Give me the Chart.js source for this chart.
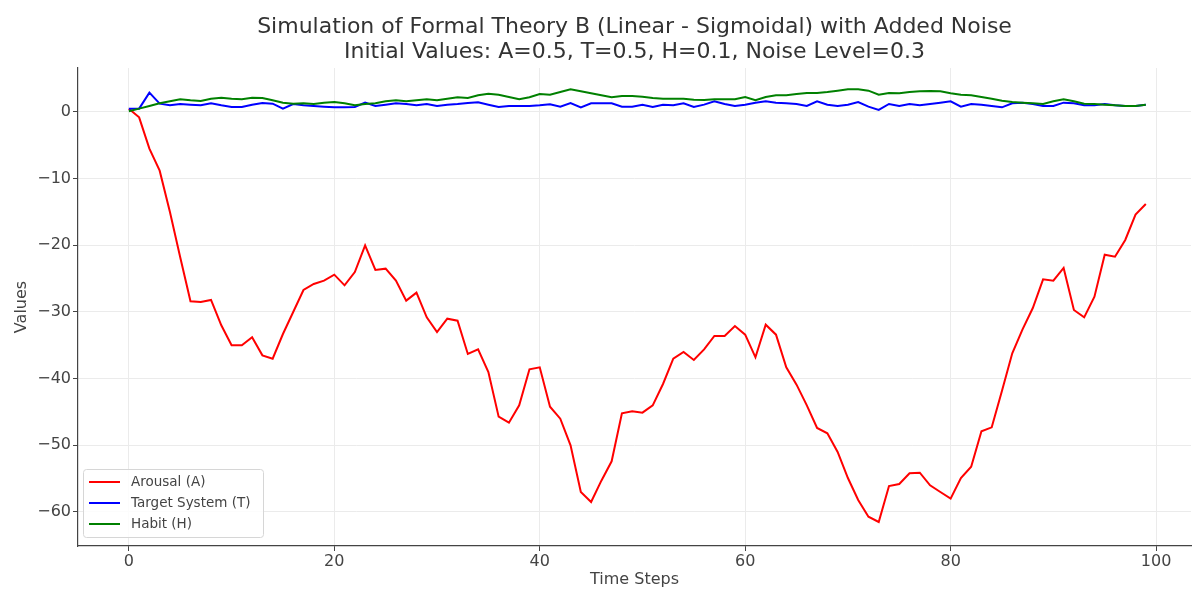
<!DOCTYPE html>
<html lang="en">
<head>
  <meta charset="UTF-8">
  <title>Simulation of Formal Theory B</title>
  <script src="https://cdnjs.cloudflare.com/ajax/libs/Chart.js/4.4.1/chart.umd.min.js"></script>
  <style>
  body {
    margin: 0;
    background: #fff;
  }
  </style>
</head>
<body>
<canvas id="myChart" width="1193" height="591"></canvas>
<script>
    const timeSteps = [
      0, 1, 2, 3, 4, 5, 6, 7, 8, 9, 10, 11, 12, 13, 14, 15, 16, 17, 18, 19,
      20, 21, 22, 23, 24, 25, 26, 27, 28, 29, 30, 31, 32, 33, 34, 35, 36, 37, 38, 39,
      40, 41, 42, 43, 44, 45, 46, 47, 48, 49, 50, 51, 52, 53, 54, 55, 56, 57, 58, 59,
      60, 61, 62, 63, 64, 65, 66, 67, 68, 69, 70, 71, 72, 73, 74, 75, 76, 77, 78, 79,
      80, 81, 82, 83, 84, 85, 86, 87, 88, 89, 90, 91, 92, 93, 94, 95, 96, 97, 98, 99
    ];

    const arousal = [
      0.5, -0.8, -5.5, -8.8, -15, -21.8, -28.4, -28.5, -28.2, -32,
      -35, -35, -33.8, -36.5, -37, -33.3, -30, -26.7, -25.8, -25.3,
      -24.4, -26, -24, -20, -23.7, -23.5, -25.3, -28.3, -27.1, -30.8,
      -33, -31, -31.3, -36.3, -35.6, -39, -45.7, -46.6, -44, -38.6,
      -38.3, -44.2, -46, -50, -57, -58.5, -55.3, -52.4, -45.2, -44.9,
      -45.1, -44, -40.8, -37, -36, -37.2, -35.6, -33.6, -33.6, -32.1,
      -33.4, -36.8, -31.9, -33.4, -38.3, -40.9, -44, -47.4, -48.2, -51,
      -54.9, -58.2, -60.7, -61.5, -56.1, -55.8, -54.2, -54.1, -56, -57,
      -58, -54.9, -53.2, -47.9, -47.3, -41.8, -36.2, -32.6, -29.4, -25.1,
      -25.3, -23.4, -29.7, -30.8, -27.7, -21.4, -21.7, -19.2, -15.4, -13.8
    ];

    const targetSystem = [
      0.5, 0.5, 2.9, 1.25, 1.0, 1.2, 1.1, 1.0, 1.3, 1.0,
      0.75, 0.75, 1.1, 1.35, 1.25, 0.5, 1.2, 1.0, 0.9, 0.8,
      0.7, 0.7, 0.75, 1.4, 0.9, 1.1, 1.3, 1.2, 1.0, 1.2,
      0.9, 1.1, 1.2, 1.35, 1.45, 1.1, 0.75, 0.9, 0.9, 0.9,
      1.0, 1.15, 0.8, 1.35, 0.7, 1.3, 1.3, 1.3, 0.8, 0.8,
      1.1, 0.75, 1.1, 1.0, 1.3, 0.75, 1.1, 1.6, 1.2, 0.9,
      1.1, 1.4, 1.6, 1.4, 1.3, 1.2, 0.9, 1.6, 1.1, 0.9,
      1.1, 1.5, 0.8, 0.3, 1.2, 0.9, 1.2, 1.0, 1.2, 1.4,
      1.6, 0.8, 1.2, 1.1, 0.9, 0.7, 1.3, 1.4, 1.2, 0.9,
      0.9, 1.4, 1.3, 1.0, 1.0, 1.2, 1.0, 0.9, 0.9, 1.1
    ];

    const habit = [
      0.1, 0.5, 0.9, 1.3, 1.6, 1.9, 1.75, 1.65, 2.0, 2.15,
      2.0, 1.9, 2.15, 2.1, 1.75, 1.4, 1.25, 1.3, 1.2, 1.4,
      1.5, 1.3, 1.0, 1.2, 1.3, 1.6, 1.75, 1.6, 1.75, 1.9,
      1.75, 2.0, 2.2, 2.1, 2.5, 2.75, 2.6, 2.25, 1.9, 2.2,
      2.7, 2.6, 3.0, 3.4, 3.1, 2.8, 2.5, 2.2, 2.4, 2.4,
      2.3, 2.1, 2.0, 2.0, 2.0, 1.85, 1.8, 1.9, 1.9, 1.9,
      2.25, 1.75, 2.25, 2.5, 2.5, 2.7, 2.85, 2.85, 3.0, 3.2,
      3.4, 3.4, 3.2, 2.6, 2.85, 2.8, 3.0, 3.1, 3.15, 3.1,
      2.8, 2.6, 2.5, 2.25, 2.0, 1.7, 1.5, 1.4, 1.3, 1.2,
      1.6, 1.9, 1.6, 1.25, 1.2, 1.1, 1.0, 0.9, 0.9, 1.1
    ];

    const xTicks = [0, 20, 40, 60, 80, 100];
    const yTicks = [-60, -50, -40, -30, -20, -10, 0];

    const FONT = "'DejaVu Sans', sans-serif";
    const TEXT = '#444';

    function points(values) {
      return timeSteps.map((t, i) => ({x: t, y: values[i]}));
    }

    // matplotlib style minus sign on negative ticks
    function fmt(v) {
      return v < 0 ? '\u2212' + Math.abs(v) : String(v);
    }

    // legend box in the lower left corner of the plot
    const cornerLegend = {
      id: 'cornerLegend',
      afterDraw: (chart) => {
        const c = chart.ctx;
        const area = chart.chartArea;
        const x = area.left + 5, y = area.bottom - 77, w = 180, h = 68;
        c.save();
        c.fillStyle = 'rgba(255,255,255,0.85)';
        c.strokeStyle = '#d6d6d6';
        c.lineWidth = 1;
        c.beginPath();
        c.roundRect(x + 0.5, y + 0.5, w, h, 3);
        c.fill();
        c.stroke();
        c.font = '13.5px ' + FONT;
        c.textBaseline = 'middle';
        chart.data.datasets.forEach((ds, i) => {
          const ly = y + 13 + i * 21;
          c.strokeStyle = ds.borderColor;
          c.lineWidth = 2;
          c.beginPath();
          c.moveTo(x + 6, ly);
          c.lineTo(x + 37, ly);
          c.stroke();
          c.fillStyle = TEXT;
          c.fillText(ds.label, x + 48, ly);
        });
        c.restore();
      }
    };

    var ctx = document.getElementById("myChart");
    var myChart = new Chart(ctx, {
        type: 'line',
        data: {
          datasets: [{
            label: 'Arousal (A)',
            data: points(arousal),
            borderColor: 'red',
            order: 2
          }, {
            label: 'Target System (T)',
            data: points(targetSystem),
            borderColor: 'blue',
            order: 1
          }, {
            label: 'Habit (H)',
            data: points(habit),
            borderColor: 'green',
            order: 0
          }]
        },
        options: {
          responsive: false,
          animation: false,
          datasets: {
            line: {
              borderWidth: 2,
              pointRadius: 0,
              tension: 0,
              fill: false
            }
          },
          layout: {
            padding: {left: 0, right: 2, top: 0, bottom: 0}
          },
          scales: {
            x: {
              type: 'linear',
              min: -4.95,
              max: 103.4,
              afterBuildTicks: (s) => { s.ticks = xTicks.map(v => ({value: v})); },
              afterFit: (s) => { s.height = 45; },
              grid: {color: '#ebebeb', tickColor: '#444', tickLength: 5},
              border: {color: '#444', width: 1.2},
              ticks: {
                color: TEXT,
                font: {family: FONT, size: 16},
                padding: 1,
                maxRotation: 0,
                callback: (v) => fmt(v)
              },
              title: {
                display: true,
                text: 'Time Steps',
                color: TEXT,
                font: {family: FONT, size: 16},
                padding: {top: 0, bottom: 1.5}
              }
            },
            y: {
              min: -65.1,
              max: 6.6,
              afterBuildTicks: (s) => { s.ticks = yTicks.map(v => ({value: v})); },
              afterFit: (s) => { s.width = 78; },
              grid: {color: '#ebebeb', tickColor: '#444', tickLength: 5},
              border: {color: '#444', width: 1.2},
              ticks: {
                color: TEXT,
                font: {family: FONT, size: 16},
                padding: 2,
                callback: (v) => fmt(v)
              },
              title: {
                display: true,
                text: 'Values',
                color: TEXT,
                font: {family: FONT, size: 16},
                padding: {top: 12, bottom: 0}
              }
            }
          },
          plugins: {
            legend: {display: false},
            tooltip: {enabled: false},
            title: {
              display: true,
              fullSize: false,
              text: ['Simulation of Formal Theory B (Linear - Sigmoidal) with Added Noise',
                     'Initial Values: A=0.5, T=0.5, H=0.1, Noise Level=0.3'],
              color: '#333',
              font: {family: FONT, size: 22, weight: 'normal', lineHeight: 1.136},
              padding: {top: 14.5, bottom: 3.5}
            }
          }
        },
        plugins: [cornerLegend]
      });
</script>
</body>
</html>
